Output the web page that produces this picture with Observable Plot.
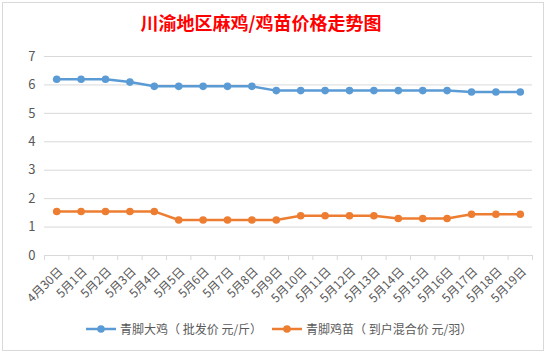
<!DOCTYPE html>
<html>
<head>
<meta charset="utf-8">
<script src="https://cdn.jsdelivr.net/npm/d3@7"></script>
<script src="https://cdn.jsdelivr.net/npm/@observablehq/plot@0.6"></script>
<style>
  html, body { margin: 0; padding: 0; background: #fff; }
  #wrap { position: relative; width: 548px; height: 356px; overflow: hidden; font-family: "Noto Sans CJK SC", sans-serif; }
  #frame { position: absolute; left: 2px; top: 2px; width: 542px; height: 349px; border: 1px solid #d9d9d9; box-sizing: border-box; }
  #title { position: absolute; left: 0; width: 522px; top: 9px; text-align: center; color: #ff0000; font-size: 18px; font-weight: 600; }
  #chart { position: absolute; left: 0; top: 0; }
  #legend { position: absolute; top: 320px; left: 86px; font-size: 12px; color: #595959; display: flex; align-items: center; white-space: nowrap; }
  #legend .item { display: flex; align-items: center; margin-right: 10px; }
  #legend svg { margin-right: 4px; }
</style>
</head>
<body>
<div id="wrap">
  <div id="frame"></div>
  <div id="chart"></div>
  <div id="title">川渝地区麻鸡/鸡苗价格走势图</div>
  <div id="legend"></div>
</div>
<script>
const dates = ["4月30日","5月1日","5月2日","5月3日","5月4日","5月5日","5月6日","5月7日","5月8日","5月9日","5月10日","5月11日","5月12日","5月13日","5月14日","5月15日","5月16日","5月17日","5月18日","5月19日"];
const broiler = [6.2,6.2,6.2,6.1,5.95,5.95,5.95,5.95,5.95,5.8,5.8,5.8,5.8,5.8,5.8,5.8,5.8,5.75,5.75,5.75];
const chick = [1.55,1.55,1.55,1.55,1.55,1.25,1.25,1.25,1.25,1.25,1.4,1.4,1.4,1.4,1.3,1.3,1.3,1.45,1.45,1.45];
const seriesNames = ["青脚大鸡（ 批发价 元/斤）","青脚鸡苗（ 到户混合价 元/羽）"];
const colors = ["#5b9bd5","#ed7d31"];
const yTicks = [0,1,2,3,4,5,6,7];

const rows = [];
dates.forEach((d, i) => {
  rows.push({i, date: d, series: seriesNames[0], value: broiler[i]});
  rows.push({i, date: d, series: seriesNames[1], value: chick[i]});
});
const labels = dates.map((d, i) => ({i, date: d}));
const boundaries = d3.range(dates.length + 1);

const chart = Plot.plot({
  width: 548,
  height: 356,
  marginLeft: 44,
  marginRight: 16,
  marginTop: 56,
  marginBottom: 101,
  style: {fontFamily: "'Noto Sans CJK SC', sans-serif", fontSize: "13px", color: "#595959", background: "transparent"},
  x: {type: "linear", domain: [0, dates.length], axis: null},
  y: {domain: [0, 7], ticks: yTicks, tickSize: 0, tickPadding: 9, label: null, tickFormat: d => String(d)},
  color: {domain: seriesNames, range: colors},
  marks: [
    Plot.gridY(yTicks, {stroke: "#d9d9d9", strokeOpacity: 1, strokeWidth: 1}),
    Plot.ruleX(boundaries, {x: d => d, y1: 0, y2: 0, stroke: "#d9d9d9", insetBottom: -5}),
    Plot.line(rows, {x: d => d.i + 0.5, y: "value", z: "series", stroke: "series", strokeWidth: 2.5, curve: "linear"}),
    Plot.dot(rows, {x: d => d.i + 0.5, y: "value", fill: "series", r: 3.8, stroke: "none"}),
    Plot.text(labels, {x: d => d.i + 0.5, y: () => 0, text: "date", rotate: -45, textAnchor: "end", dx: 4, dy: 14, fontSize: 12, fill: "#595959"})
  ]
});
document.getElementById("chart").appendChild(chart);

const legend = document.getElementById("legend");
seriesNames.forEach((name, k) => {
  const item = document.createElement("div");
  item.className = "item";
  item.innerHTML = `<svg width="30" height="10"><line x1="0" y1="5" x2="30" y2="5" stroke="${colors[k]}" stroke-width="2.5"/><circle cx="15" cy="5" r="3.8" fill="${colors[k]}"/></svg><span>${name}</span>`;
  legend.appendChild(item);
});
</script>
</body>
</html>
